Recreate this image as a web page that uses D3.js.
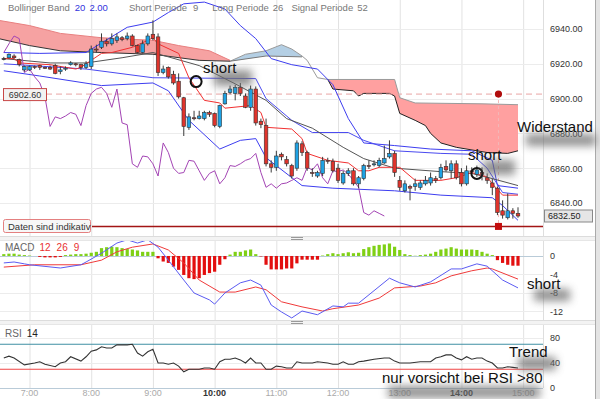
<!DOCTYPE html>
<html>
<head>
<meta charset="utf-8">
<script src="https://cdn.jsdelivr.net/npm/d3@7"></script>
<style>
  body { margin: 0; background: #fff; }
  svg { display: block; font-family: "Liberation Sans", Arial, sans-serif; }
</style>
</head>
<body>
<div id="chart"></div>
<script>
// ---- data ----
var candleStart = "6:35";   // 5 minute candles
// [open, high, low, close]
var candles = [
  [6923,6924,6922,6923],[6923.5,6926,6923,6925.5],[6924.5,6925.5,6923,6923.5],[6922.5,6923,6918.5,6919.5],
  [6916.5,6919,6915.5,6918.5],[6916.5,6919,6916,6918.5],[6918.5,6919,6917,6918],[6919,6919.5,6916.5,6918],
  [6918,6918.5,6917,6917.5],[6918,6919,6916.5,6917],[6919,6920,6914,6914.5],[6915.5,6918.5,6914,6916.5],
  [6917,6918.5,6916,6917.5],[6919.5,6921.5,6919,6920.5],[6920,6920.5,6918.5,6919.5],[6919.5,6920,6916.5,6918],
  [6918,6921.5,6917,6920],[6918.5,6930.5,6917,6928.5],[6928.5,6931,6926.5,6928],[6929.5,6937.5,6928.5,6933],
  [6933,6934.5,6930,6931.5],[6931.5,6937.5,6930.5,6934.5],[6933.5,6937.5,6932,6935.5],[6935,6936,6933,6934],
  [6934.5,6938,6933.5,6936],[6936,6937,6930,6930.5],[6930.5,6931,6926,6926.5],[6926.5,6933.5,6926,6931.5],
  [6931.5,6937.5,6930.5,6936],[6937,6945,6933.5,6934.5],[6935.5,6937.5,6913,6915],[6915,6919,6914,6917],
  [6918,6918.5,6911.5,6912.5],[6914,6916,6908,6909],[6910,6914.5,6900,6901],[6900.5,6901,6878.5,6884],
  [6883.5,6891.5,6882,6889.5],[6889,6893,6887.5,6888.5],[6888.5,6893,6888,6890],[6888.5,6893,6887.5,6892],
  [6892,6893,6889.5,6891],[6891.5,6892,6883.5,6884.5],[6884,6896.5,6883,6896],[6897,6904.5,6896.5,6903],
  [6903.5,6907.5,6902.5,6905.5],[6903,6908,6899,6906.5],[6906.5,6909,6901.5,6903],[6901.5,6903,6894.5,6895],
  [6895,6907.5,6893,6905.5],[6905.5,6907,6884.5,6886],[6887,6888.5,6883,6885],[6884.5,6888.5,6861,6862.5],
  [6862.5,6864.5,6857.5,6860.5],[6860.5,6870,6858.5,6867],[6868,6869,6864.5,6866.5],[6865,6867,6861,6862.5],
  [6861.5,6862.5,6854,6855.5],[6860,6876,6858.5,6874.5],[6874,6875.5,6867,6869],[6869,6870,6858.5,6860],
  [6857.5,6860,6855,6857],[6855.5,6858.5,6854.5,6857.5],[6857,6866.5,6855.5,6864.5],[6864.5,6866,6862.5,6864],
  [6864,6865.5,6857.5,6858.5],[6860,6862.5,6851.5,6853],[6851.5,6858.5,6850.5,6857],[6857,6860,6855.5,6858.5],
  [6858.5,6860,6850,6851],[6851,6855.5,6848.5,6854.5],[6854,6862.5,6853,6861.5],[6861.5,6864.5,6859.5,6861],
  [6862,6864.5,6861,6862.5],[6861.5,6866,6860.5,6864.5],[6863,6873,6862.5,6865.5],[6866.5,6876,6865.5,6868.5],
  [6868.5,6870,6855,6857.5],[6853,6855.5,6847,6849],[6847,6853,6846,6851],[6849.5,6850.5,6841.5,6848.5],
  [6849.5,6854,6847,6851],[6849,6853,6847.5,6851.5],[6851,6855.5,6850,6853],[6851.5,6857.5,6850,6854.5],
  [6854,6855.5,6851.5,6853],[6854.5,6862.5,6853.5,6860.5],[6861,6864.5,6858,6859],[6858.5,6864.5,6854,6862.5],
  [6862.5,6864.5,6853.5,6854.5],[6857.5,6860,6849.5,6851],[6851,6861.5,6850,6858.5],[6858.5,6860.5,6856.5,6858],
  [6856.5,6861.5,6855,6859],[6857.5,6860.5,6853,6856.5],[6854.5,6857,6851,6853],[6851.5,6854,6844.5,6849],
  [6848.5,6849.5,6833,6834.5],[6835.5,6841.5,6831,6833],[6831.5,6845.5,6830.5,6835.5],[6835.5,6837,6831,6834],
  [6834,6837.5,6831.5,6832.5]
];
var chikouShift = 26;

var bbUpper = [["6:35",6926.5],["7:10",6926],["7:55",6926.5],["8:10",6932],["8:35",6941],["9:00",6944],["9:15",6949.5],
  ["9:30",6954.5],["9:50",6955.5],["10:10",6951.5],["10:25",6942],["10:40",6934.5],["10:55",6923],["11:15",6919.5],
  ["11:40",6917],["11:55",6908],["12:10",6888.5],["12:25",6874.5],["12:55",6873],["13:30",6871],["14:10",6870],
  ["14:30",6864.5],["14:35",6850],["14:55",6848.5]];
var bbMid = [["6:35",6920],["7:55",6917],["9:00",6912],["10:40",6911.5],["10:50",6900],["11:15",6887.5],["11:35",6880.5],
  ["12:10",6880.5],["12:25",6876],["12:55",6870],["13:40",6868.5],["14:10",6868],["14:25",6860],["14:40",6846],["14:55",6845]];
var bbLower = [["6:35",6916],["7:10",6913],["8:10",6907.5],["9:00",6909],["9:15",6904.5],["9:35",6887.5],["10:05",6871],
  ["10:25",6876],["10:40",6877],["10:50",6866],["11:25",6850],["11:55",6848.5],["12:55",6847],["13:40",6844.5],
  ["14:30",6843],["14:40",6838.5],["14:55",6830]];
var tenkan = [["6:35",6923],["6:45",6923],["6:50",6920.5],["7:20",6919.5],["7:45",6917],["7:50",6918],["7:55",6920],
  ["8:10",6926],["8:20",6926.5],["8:40",6929.5],["8:55",6933.5],["9:00",6935],["9:05",6931.5],["9:25",6926],["9:35",6912],
  ["9:50",6899],["10:05",6897.5],["10:10",6894.5],["10:35",6896],["10:45",6892],["10:50",6883.5],["11:15",6882.5],
  ["11:25",6877],["11:30",6868.5],["11:50",6864.5],["12:10",6863],["12:20",6858.5],["12:30",6858.5],["12:40",6860.5],
  ["13:00",6860.5],["13:15",6853],["13:40",6853],["13:55",6854.5],["14:10",6857.5],["14:25",6855],["14:30",6851],
  ["14:40",6844.5],["14:55",6844.5]];
var kijun = [["6:35",6923],["7:20",6920.5],["7:55",6920.5],["8:30",6923.5],["9:00",6926.5],["9:45",6919],["10:20",6908.5],
  ["10:50",6899],["11:10",6888.5],["11:35",6883],["12:05",6872],["12:25",6865.5],["12:55",6860],["13:40",6858],
  ["14:10",6857],["14:30",6854],["14:55",6850]];

// Ichimoku cloud pieces
var cloud1Top = [["6:30",6945],["7:00",6942],["7:30",6937.5],["8:10",6935],["9:00",6933.5],["9:25",6930.5],["9:55",6927.5],["10:15",6922]];
var cloud1Bot = [["6:30",6934.5],["7:00",6930.5],["7:30",6927.5],["8:10",6926.5],["9:00",6925.5],["9:45",6922],["10:15",6921.5]];
var cloud2Top = [["10:15",6921.5],["10:30",6925.5],["10:50",6927.5],["11:05",6931],["11:15",6928.5],["11:25",6924.5]];
var cloud2Bot = [["10:15",6921.5],["10:50",6924.5],["11:25",6924]];
var cloudLink = [["11:25",6924.5],["11:30",6922],["11:40",6912],["11:50",6911]];
var cloud3Top = [["11:50",6911],["12:55",6911],["13:00",6900.5],["13:15",6897.5],["14:20",6897],["14:55",6896.5]];
var cloud3Bot = [["11:50",6911],["11:55",6905.5],["12:15",6904.5],["12:20",6901.5],["12:25",6903],["12:50",6903],
  ["12:55",6901.5],["13:00",6891.5],["13:15",6887.5],["13:25",6884.5],["13:30",6880],["13:40",6874.5],["13:55",6872],
  ["14:25",6869],["14:45",6868.5],["14:55",6870]];

var macdHist = [0.4,0.5,0.5,0.3,0.2,0.1,0,-0.2,-0.3,-0.3,-0.3,-0.2,0.2,0.3,0.4,0.4,0.5,0.7,0.9,1.7,
  1.9,2.0,1.9,1.7,1.5,1.4,1.2,0.9,0.9,0.9,-0.5,-1.2,-1.5,-2.3,-3.0,-4.1,-4.8,-5.0,-4.8,-4.1,
  -3.7,-3.4,-1.9,-0.7,0.3,0.9,0.9,1.2,1.4,0.4,-0.1,-1.9,-2.9,-2.9,-2.9,-2.7,-2.7,-1.6,-0.8,-0.8,
  -0.8,-0.8,0.1,0.4,0.6,0.4,0.6,0.8,0.6,0.7,1.5,1.9,2.2,2.4,2.5,2.7,2.0,1.3,0.4,0.2,
  0.05,0.2,0.3,0.5,0.9,1.4,1.6,1.9,1.6,1.4,1.4,1.4,1.3,0.9,0.5,0.2,-0.9,-1.5,-1.9,-2.1,-2.1];
var macdLine = [["6:35",-1.5],["6:45",-1.3],["6:55",-1.7],["7:00",-1.9],["7:30",-2.6],["7:50",-1.9],["7:55",-1.3],
  ["8:10",0.6],["8:25",2.8],["8:35",3.5],["8:45",2.8],["8:55",3.5],["9:05",1.9],["9:15",-0.9],["9:30",-5.2],["9:40",-8.0],
  ["9:55",-9.5],["10:00",-10.4],["10:10",-8.0],["10:25",-5.8],["10:35",-5.2],["10:45",-6.3],["10:55",-10.6],["11:05",-12.1],
  ["11:15",-13.4],["11:25",-11.9],["11:40",-12.7],["11:55",-10.8],["12:05",-11.0],["12:10",-10.2],["12:20",-10.2],
  ["12:50",-4.8],["13:00",-5.8],["13:15",-6.7],["13:30",-5.6],["13:50",-2.8],["14:00",-2.8],["14:15",-1.7],["14:25",-2.2],
  ["14:40",-5.2],["14:55",-6.9]];
var macdSignal = [["6:35",-2.4],["7:05",-1.9],["7:50",-1.9],["8:10",-0.9],["8:25",0.9],["8:40",1.9],["9:00",2.6],
  ["9:15",1.3],["9:30",-1.5],["9:45",-5.2],["10:05",-7.8],["10:20",-7.8],["10:40",-6.7],["10:50",-7.3],["11:05",-9.9],
  ["11:25",-11.0],["11:45",-11.9],["11:55",-11.4],["12:20",-10.6],["12:40",-9.1],["12:55",-6.9],["13:20",-6.5],
  ["13:35",-5.8],["13:50",-4.3],["14:10",-3.2],["14:25",-2.6],["14:30",-2.8],["14:55",-5.0]];

var rsi = [["6:35",48],["6:40",51],["6:45",48],["6:55",37],["7:05",40],["7:10",42],["7:15",38],["7:25",34],["7:30",40],
  ["7:35",42],["7:40",50],["7:50",43],["7:55",50],["8:00",59],["8:05",61],["8:10",66],["8:15",64],["8:20",64],["8:25",69],
  ["8:35",69],["8:40",70],["8:45",56],["8:50",51],["8:55",58],["9:00",62],["9:05",40],["9:10",40],["9:15",38],["9:20",40],
  ["9:25",35],["9:30",26],["9:35",30],["9:45",30],["9:50",32],["9:55",32],["10:00",30],["10:05",42],["10:10",46],
  ["10:15",46],["10:20",48],["10:25",45],["10:30",40],["10:35",48],["10:40",40],["10:45",40],["10:50",30],["10:55",30],
  ["11:00",35],["11:05",34],["11:10",32],["11:15",32],["11:20",42],["11:25",40],["11:35",40],["11:40",42],["11:50",40],
  ["11:55",38],["12:00",38],["12:05",42],["12:10",38],["12:15",38],["12:20",42],["12:25",43],["12:35",46],["12:45",48],
  ["12:50",48],["12:55",43],["13:00",40],["13:10",40],["13:20",42],["13:30",42],["13:35",48],["13:40",50],["13:45",53],
  ["13:50",53],["13:55",48],["14:00",45],["14:05",50],["14:10",46],["14:15",48],["14:20",48],["14:25",43],["14:30",40],
  ["14:35",32],["14:40",32],["14:45",34],["14:50",33],["14:55",32]];
var rsiLevels = [70, 30];

var mainTicks = [6840, 6860, 6880, 6900, 6920, 6940];
var macdTicks = [0, -4, -8, -12];
var rsiTicks = [0, 40, 80];
var timeLabels = ["7:00","8:00","9:00","10:00","11:00","12:00","13:00","14:00","15:00"];
var darkLabels = ["10:00","14:00"];

var refPrice = 6902.60, lastPrice = 6832.50, markLevel = 6826.5, markTime = "14:36";
var shortMarks = [["9:42", 6909.8], ["14:15", 6857]];

// ---- layout ----
var plotW = 543;
var mainTop = 0, mainBot = 236, macdTop = 241, macdBot = 320, rsiTop = 325, rsiBot = 388;

function tm(s) { var p = s.split(":"); return new Date(2014, 0, 6, +p[0], +p[1]); }
function candleTime(i) { return d3.timeMinute.offset(tm(candleStart), 5 * i); }

var x = d3.scaleTime()
  .domain([new Date(2014, 0, 6, 6, 31, 18), new Date(2014, 0, 6, 15, 19, 18)])
  .range([0, plotW]);
var y = d3.scaleLinear().domain([6821, 6956.7]).range([mainBot, mainTop]);
var yM = d3.scaleLinear().domain([-13.84, 3.24]).range([macdBot, macdTop]);
var yR = d3.scaleLinear().domain([0, 100.8]).range([rsiBot, rsiTop]);

var svg = d3.select("#chart").append("svg").attr("width", 600).attr("height", 399);
var defs = svg.append("defs");
defs.append("clipPath").attr("id", "clipMain").append("rect").attr("width", plotW).attr("height", mainBot);
defs.append("clipPath").attr("id", "clipMacd").append("rect").attr("y", macdTop).attr("width", plotW).attr("height", macdBot - macdTop);
defs.append("filter").attr("id", "blur").attr("x", "-50%").attr("y", "-80%").attr("width", "200%").attr("height", "260%")
  .append("feGaussianBlur").attr("stdDeviation", 4);

// right border strip
svg.append("rect").attr("x", 596).attr("y", 0).attr("width", 4).attr("height", 399).attr("fill", "#e4e4e4");
svg.append("line").attr("x1", 595.5).attr("x2", 595.5).attr("y1", 0).attr("y2", 399).attr("stroke", "#aaa");

// panel separators
[[mainBot, macdTop], [macdBot, rsiTop]].forEach(function (s) {
  svg.append("rect").attr("x", 0).attr("y", s[0]).attr("width", 595).attr("height", s[1] - s[0]).attr("fill", "#f3f3f3");
  svg.append("line").attr("x1", 0).attr("x2", 595).attr("y1", s[0] + 0.5).attr("y2", s[0] + 0.5).attr("stroke", "#dcdcdc");
  svg.append("line").attr("x1", 0).attr("x2", 595).attr("y1", s[1] - 0.5).attr("y2", s[1] - 0.5).attr("stroke", "#e6e6e6");
  [1.5, 3.5].forEach(function (d) {
    svg.append("line").attr("x1", 291).attr("x2", 303).attr("y1", s[0] + d).attr("y2", s[0] + d).attr("stroke", "#999");
  });
});

// vertical grid
var hours = timeLabels.map(tm);
[[mainTop, mainBot], [macdTop, macdBot], [rsiTop, rsiBot]].forEach(function (p) {
  svg.append("g").selectAll("line").data(hours).enter().append("line")
    .attr("x1", function (d) { return x(d) + 0.5; }).attr("x2", function (d) { return x(d) + 0.5; })
    .attr("y1", p[0]).attr("y2", p[1]).attr("stroke", "#e2e2e2");
  svg.append("line").attr("x1", plotW + 0.5).attr("x2", plotW + 0.5).attr("y1", p[0]).attr("y2", p[1]).attr("stroke", "#dedede");
});

// horizontal grid
svg.append("g").selectAll("line").data(mainTicks).enter().append("line")
  .attr("x1", 0).attr("x2", plotW).attr("y1", function (d) { return Math.round(y(d)) + 0.5; })
  .attr("y2", function (d) { return Math.round(y(d)) + 0.5; }).attr("stroke", "#ececec");
svg.append("g").selectAll("line").data(macdTicks).enter().append("line")
  .attr("x1", 0).attr("x2", plotW).attr("y1", function (d) { return Math.round(yM(d)) + 0.5; })
  .attr("y2", function (d) { return Math.round(yM(d)) + 0.5; })
  .attr("stroke", function (d) { return d === 0 ? "#b9cbd8" : "#ececec"; });
svg.append("g").selectAll("line").data(rsiTicks).enter().append("line")
  .attr("x1", 0).attr("x2", plotW).attr("y1", function (d) { return Math.round(yR(d)) + 0.5; })
  .attr("y2", function (d) { return Math.round(yR(d)) + 0.5; })
  .attr("stroke", function (d) { return d === 0 ? "#b9cbd8" : "#ececec"; });

// ---- main panel ----
var main = svg.append("g").attr("clip-path", "url(#clipMain)");
var line = d3.line().x(function (d) { return x(tm(d[0])); }).y(function (d) { return y(d[1]); });

function cloud(top, bot, fill) {
  var pts = top.concat(bot.slice().reverse());
  main.append("path").attr("d", line(pts) + "Z").attr("fill", fill);
}
cloud(cloud1Top, cloud1Bot, "#f6a2a2");
cloud(cloud2Top, cloud2Bot, "#b4cfe4");
cloud(cloud3Top, cloud3Bot, "#ffa0a0");
main.append("path").attr("d", line(cloud1Top)).attr("fill", "none").attr("stroke", "#e88080");
main.append("path").attr("d", line(cloud1Bot)).attr("fill", "none").attr("stroke", "#333");
main.append("path").attr("d", line(cloud2Top.concat(cloudLink.slice(1)).concat(cloud3Top.slice(1)))).attr("fill", "none").attr("stroke", "#9a9a9a");
main.append("path").attr("d", line(cloud2Bot)).attr("fill", "none").attr("stroke", "#777");
main.append("path").attr("d", line(cloud3Bot)).attr("fill", "none").attr("stroke", "#222");

// reference price line
main.append("line").attr("x1", 46).attr("x2", plotW).attr("y1", y(refPrice)).attr("y2", y(refPrice))
  .attr("stroke", "#e9a4a4").attr("stroke-dasharray", "6,4");
main.append("line").attr("x1", x(tm(markTime))).attr("x2", x(tm(markTime))).attr("y1", y(refPrice)).attr("y2", y(markLevel))
  .attr("stroke", "#f2b8b8").attr("stroke-dasharray", "3,3");

[[bbUpper, "#3d3df0"], [bbMid, "#4a4af0"], [bbLower, "#3d3df0"]].forEach(function (b) {
  main.append("path").attr("d", line(b[0])).attr("fill", "none").attr("stroke", b[1]).attr("stroke-width", 1);
});
main.append("path").attr("d", line(kijun)).attr("fill", "none").attr("stroke", "#555").attr("stroke-width", 1);
main.append("path").attr("d", line(tenkan)).attr("fill", "none").attr("stroke", "#f23030").attr("stroke-width", 1);

// lagging line = closes shifted back
var chikou = candles.slice(chikouShift).map(function (c, i) { return [candleTime(i), c[3]]; });
main.append("path")
  .attr("d", d3.line().x(function (d) { return x(d[0]); }).y(function (d) { return y(d[1]); })(chikou))
  .attr("fill", "none").attr("stroke", "#a344b4").attr("stroke-width", 1);

// candles
var cg = main.append("g").selectAll("g").data(candles).enter().append("g");
cg.append("line")
  .attr("x1", function (d, i) { return x(candleTime(i)); }).attr("x2", function (d, i) { return x(candleTime(i)); })
  .attr("y1", function (d) { return y(d[1]); }).attr("y2", function (d) { return y(d[2]); })
  .attr("stroke", "#3a3a3a").attr("stroke-width", 1);
cg.append("rect")
  .attr("x", function (d, i) { return x(candleTime(i)) - 1.8; })
  .attr("width", 3.6)
  .attr("y", function (d) { return y(Math.max(d[0], d[3])); })
  .attr("height", function (d) { return Math.max(1, Math.abs(y(d[0]) - y(d[3]))); })
  .attr("fill", function (d) { return d[3] > d[0] ? "#1ea2e4" : (d[3] < d[0] ? "#e0342c" : "#444"); })
  .attr("stroke", "#333").attr("stroke-width", 0.6);

// markers
main.append("line").attr("x1", 92).attr("x2", plotW).attr("y1", y(markLevel)).attr("y2", y(markLevel))
  .attr("stroke", "#a31515").attr("stroke-width", 1.5);
main.append("rect").attr("x", x(tm(markTime)) - 3.5).attr("y", y(markLevel) - 3.5).attr("width", 7).attr("height", 7).attr("fill", "#c40d0d");
main.append("circle").attr("cx", x(tm(markTime))).attr("cy", y(refPrice)).attr("r", 3.6).attr("fill", "#b10d0d");
shortMarks.forEach(function (m) {
  main.append("circle").attr("cx", x(tm(m[0]))).attr("cy", y(m[1])).attr("r", 5.5)
    .attr("fill", "none").attr("stroke", "#111").attr("stroke-width", 2);
});

// label boxes
svg.append("rect").attr("x", 3.5).attr("y", y(refPrice) - 5.5).attr("width", 43).attr("height", 12)
  .attr("fill", "#f2f2f2").attr("stroke", "#c84646");
svg.append("text").attr("x", 25).attr("y", y(refPrice) + 3.5).attr("text-anchor", "middle")
  .attr("font-size", "9px").attr("fill", "#333").text(refPrice.toFixed(2));
svg.append("rect").attr("x", 3.5).attr("y", 219.5).attr("width", 87).attr("height", 13).attr("rx", 2)
  .attr("fill", "#f7f7f7").attr("stroke", "#e48080");
svg.append("text").attr("x", 8).attr("y", 229.5).attr("font-size", "9.5px").attr("fill", "#333").text("Daten sind indikativ");

// ---- MACD panel ----
var macd = svg.append("g").attr("clip-path", "url(#clipMacd)");
macd.selectAll("rect").data(macdHist).enter().append("rect")
  .attr("x", function (d, i) { return x(candleTime(i)) - 1.6; })
  .attr("width", 3.2)
  .attr("y", function (d) { return yM(Math.max(0, d)); })
  .attr("height", function (d) { return Math.abs(yM(d) - yM(0)); })
  .attr("fill", function (d) { return d >= 0 ? "#7fd016" : "#e30f0f"; });
var mline = d3.line().x(function (d) { return x(tm(d[0])); }).y(function (d) { return yM(d[1]); });
macd.append("path").attr("d", mline(macdSignal)).attr("fill", "none").attr("stroke", "#f03a3a").attr("stroke-width", 1);
macd.append("path").attr("d", mline(macdLine)).attr("fill", "none").attr("stroke", "#5b5bf2").attr("stroke-width", 1);

// ---- RSI panel ----
svg.append("g").selectAll("line").data(rsiLevels).enter().append("line")
  .attr("x1", 0).attr("x2", plotW).attr("y1", function (d) { return yR(d); }).attr("y2", function (d) { return yR(d); })
  .attr("stroke", function (d) { return d === 70 ? "#3f8fa3" : "#ef4545"; }).attr("stroke-width", 1.2);
svg.append("path")
  .attr("d", d3.line().x(function (d) { return x(tm(d[0])); }).y(function (d) { return yR(d[1]); })(rsi))
  .attr("fill", "none").attr("stroke", "#333").attr("stroke-width", 1.1);

// ---- axes ----
function rightAxis(scale, ticks, fmt) {
  svg.append("g").attr("transform", "translate(" + (plotW + 4) + ",0)")
    .call(d3.axisRight(scale).tickValues(ticks).tickSize(0).tickFormat(fmt))
    .call(function (g) { g.select(".domain").remove(); })
    .selectAll("text").attr("font-size", "9px").attr("fill", "#333")
    .attr("font-family", "Liberation Sans, Arial, sans-serif");
}
var plain = function (d) { return String(d); };   // hyphen minus, like the original
rightAxis(y, mainTicks, d3.format(".2f"));
rightAxis(yM, macdTicks, plain);
rightAxis(yR, rsiTicks, plain);

svg.append("rect").attr("x", 544.5).attr("y", y(lastPrice) - 6).attr("width", 48).attr("height", 12)
  .attr("fill", "#e6e6e6").attr("stroke", "#888");
svg.append("text").attr("x", 548).attr("y", y(lastPrice) + 3).attr("font-size", "9px").attr("fill", "#222").text(lastPrice.toFixed(2));

svg.append("g").selectAll("text").data(timeLabels).enter().append("text")
  .attr("x", function (d) { return x(tm(d)); }).attr("y", 396).attr("text-anchor", "middle")
  .attr("font-size", "9px")
  .attr("fill", function (d) { return darkLabels.indexOf(d) >= 0 ? "#333" : "#aaa"; })
  .attr("font-weight", function (d) { return darkLabels.indexOf(d) >= 0 ? "bold" : "normal"; })
  .text(function (d) { return d; });

// ---- legends ----
function legend(xPos, yPos, size, parts) {
  var t = svg.append("text").attr("x", xPos).attr("y", yPos).attr("font-size", size);
  parts.forEach(function (p) {
    t.append("tspan").attr("fill", p[1]).attr("dx", p[2] || 0).text(p[0]);
  });
}
legend(8, 11, "9.5px", [["Bollinger Band", "#777"], ["20", "#3333dd", 5], ["2.00", "#3333dd", 4],
  ["Short Periode", "#777", 21], ["9", "#777", 6], ["Long Periode", "#777", 14], ["26", "#777", 4],
  ["Signal Periode", "#777", 8], ["52", "#777", 4]]);
legend(5, 251, "10px", [["MACD", "#666"], ["12", "#e83030", 5], ["26", "#e83030", 6], ["9", "#e83030", 6]]);
legend(5, 337, "10px", [["RSI", "#666"], ["14", "#222", 5]]);

// ---- annotations with soft shadows ----
var notes = [
  { text: "short", x: 203, y: 73, sh: [214, 70, 38, 16] },
  { text: "short", x: 468, y: 160, sh: [483, 160, 32, 15] },
  { text: "Widerstand", x: 517, y: 132, sh: [526, 134, 70, 12] },
  { text: "short", x: 527, y: 289, sh: [534, 289, 36, 12] },
  { text: "Trend", x: 509, y: 357, sh: [518, 357, 38, 13] },
  { text: "nur vorsicht bei RSI >80", x: 382, y: 383, sh: [388, 386, 152, 12] }
];
notes.forEach(function (n) {
  svg.append("rect").attr("x", n.sh[0]).attr("y", n.sh[1]).attr("width", n.sh[2]).attr("height", n.sh[3])
    .attr("fill", "#6e6e6e").attr("opacity", 0.75).attr("filter", "url(#blur)");
});
notes.forEach(function (n) {
  svg.append("text").attr("x", n.x).attr("y", n.y).attr("font-size", "15px").attr("fill", "#111").text(n.text);
});
</script>
</body>
</html>
